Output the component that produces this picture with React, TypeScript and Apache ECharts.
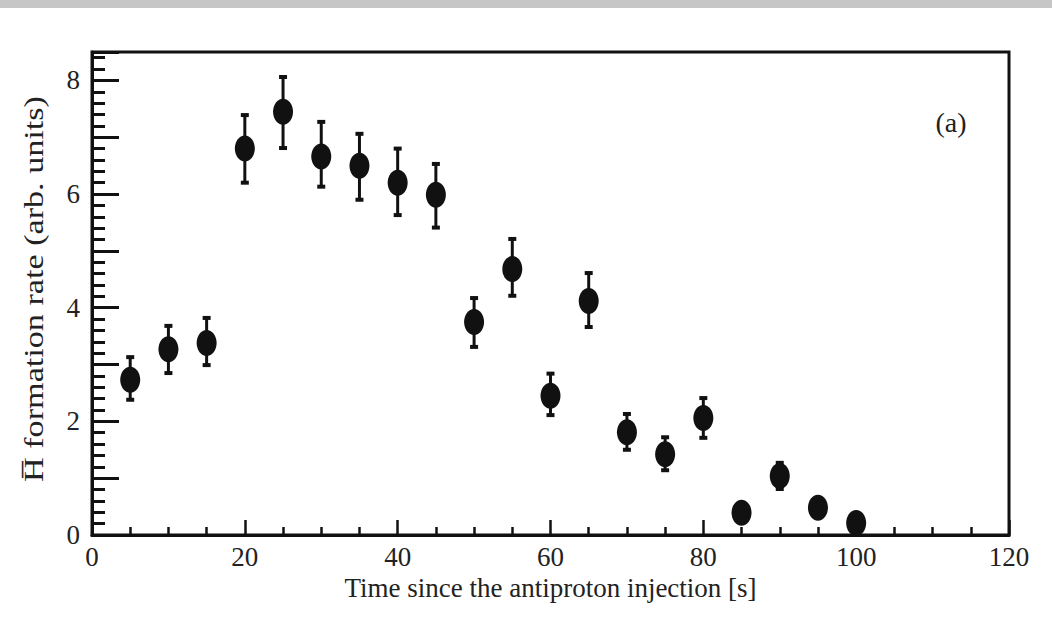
import React, { useEffect, useRef } from "react";
import * as echarts from "echarts";

const times = [5, 10, 15, 20, 25, 30, 35, 40, 45, 50, 55, 60, 65, 70, 75, 80, 85, 90, 95, 100];
const rate = [2.73, 3.27, 3.38, 6.8, 7.45, 6.66, 6.5, 6.2, 5.99, 3.75, 4.68, 2.45, 4.12, 1.81, 1.42, 2.06, 0.39, 1.04, 0.48, 0.21];
const errLow = [2.38, 2.85, 2.99, 6.2, 6.81, 6.13, 5.9, 5.63, 5.41, 3.31, 4.21, 2.11, 3.66, 1.5, 1.14, 1.71, 0.28, 0.81, 0.37, 0.13];
const errHigh = [3.13, 3.68, 3.82, 7.39, 8.06, 7.27, 7.06, 6.8, 6.53, 4.17, 5.21, 2.84, 4.61, 2.13, 1.72, 2.41, 0.5, 1.27, 0.59, 0.29];

const xTitle = "Time since the antiproton injection [s]";
const yTitle = "H\u0305 formation rate (arb. units)";
const panelLabel = "(a)";

const FONT = "'Liberation Serif', 'DejaVu Serif', serif";
const INK = "#111";

export default function App() {
  const ref = useRef<HTMLDivElement>(null);
  useEffect(() => {
    if (!ref.current) return;
    const chart = echarts.init(ref.current, null, { renderer: "svg" });
    const data = times.map((t, i) => [t, rate[i], errLow[i], errHigh[i]]);
    chart.setOption({
      animation: false,
      backgroundColor: "#fff",
      grid: {
        left: 92,
        right: 43,
        top: 52,
        bottom: 94,
        show: true,
        borderColor: INK,
        borderWidth: 3,
        backgroundColor: "transparent",
      },
      xAxis: {
        type: "value",
        min: 0,
        max: 120,
        interval: 20,
        axisLine: { lineStyle: { color: INK, width: 3 } },
        axisTick: { inside: true, length: 15, lineStyle: { color: INK, width: 2.5 } },
        minorTick: { show: true, splitNumber: 4, length: 8, lineStyle: { color: INK, width: 2.5 } },
        splitLine: { show: false },
        axisLabel: { fontFamily: FONT, fontSize: 27, color: "#222", margin: 8 },
        name: xTitle,
        nameLocation: "middle",
        nameGap: 39,
        nameTextStyle: { fontFamily: FONT, fontSize: 27, color: "#222" },
      },
      yAxis: [
        {
          type: "value",
          min: 0,
          max: 8.5,
          interval: 0.2,
          axisLine: { show: true, lineStyle: { color: INK, width: 3 } },
          axisTick: { show: true, inside: true, length: 13, lineStyle: { color: INK, width: 3 } },
          axisLabel: { show: false },
          splitLine: { show: false },
        },
        {
          type: "value",
          position: "left",
          min: 0,
          max: 8.5,
          interval: 1,
          axisLine: { show: false },
          axisTick: { show: true, inside: true, length: 27, lineStyle: { color: INK, width: 3 } },
          axisLabel: {
            fontFamily: FONT,
            fontSize: 27,
            color: "#222",
            margin: 12,
            formatter: (v: number) => (Math.abs(v % 2) < 1e-9 ? String(v) : ""),
          },
          splitLine: { show: false },
        },
      ],
      series: [
        {
          type: "custom",
          clip: false,
          xAxisIndex: 0,
          yAxisIndex: 0,
          data,
          renderItem: (params: any, api: any) => {
            const x = api.value(0);
            const c = api.coord([x, api.value(1)]);
            const lo = api.coord([x, api.value(2)]);
            const hi = api.coord([x, api.value(3)]);
            return {
              type: "group",
              children: [
                { type: "line", shape: { x1: c[0], y1: hi[1], x2: c[0], y2: lo[1] }, style: { stroke: INK, lineWidth: 3 } },
                { type: "rect", shape: { x: c[0] - 4, y: hi[1] - 2, width: 8, height: 4 }, style: { fill: INK } },
                { type: "rect", shape: { x: c[0] - 4, y: lo[1] - 2, width: 8, height: 4 }, style: { fill: INK } },
                { type: "ellipse", shape: { cx: c[0], cy: c[1], rx: 10, ry: 13 }, style: { fill: INK } },
              ],
            };
          },
        },
      ],
      graphic: [
        { type: "rect", left: 0, top: 0, shape: { x: 0, y: 0, width: 1052, height: 8 }, style: { fill: "#c6c6c6" } },
        {
          type: "text",
          x: 34,
          y: 289,
          rotation: Math.PI / 2,
          scaleX: 1.22,
          style: {
            text: yTitle,
            fontFamily: FONT,
            fontSize: 28,
            fill: "#222",
            align: "center",
            verticalAlign: "middle",
          },
        },
        {
          type: "text",
          x: 951,
          y: 122,
          style: {
            text: panelLabel,
            fontFamily: FONT,
            fontSize: 28,
            fill: "#222",
            align: "center",
            verticalAlign: "middle",
          },
        },
      ],
    });
    return () => chart.dispose();
  }, []);
  return (
    <div
      ref={ref}
      style={{ position: "absolute", left: 0, top: 0, width: 1052, height: 629 }}
    />
  );
}
